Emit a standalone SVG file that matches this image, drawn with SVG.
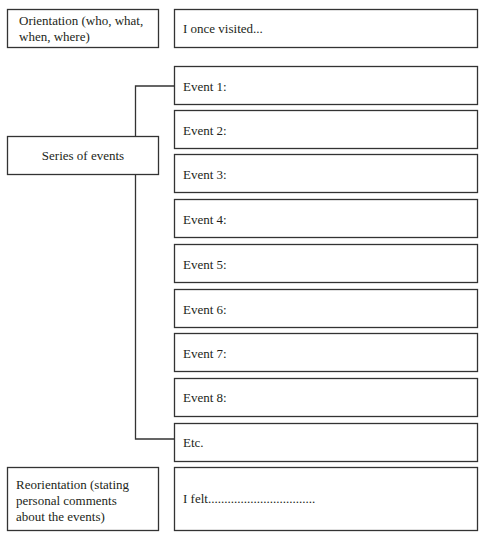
<svg xmlns="http://www.w3.org/2000/svg" width="487" height="541" viewBox="0 0 487 541">
<style>
rect{fill:#fff;stroke:#333;stroke-width:1.3}
text{font-family:"Liberation Serif",serif;font-size:13px;fill:#231f20}
.c{fill:none;stroke:#333;stroke-width:1.3}
</style>
<rect x="0" y="0" width="487" height="541" style="stroke:none"/>
<g id="connectors">
<polyline class="c" points="174,86 135.5,86 135.5,439 174,439"/>
</g>
<g id="orientation"><rect x="7.5" y="9.5" width="151" height="38"/><text x="19" y="25">Orientation (who, what,</text><text x="19" y="41">when, where)</text></g>
<g id="visited"><rect x="174.5" y="9.5" width="303" height="38"/><text x="183" y="33">I once visited...</text></g>
<g id="series"><rect x="7.5" y="136.5" width="151" height="38"/><text x="83" y="160" text-anchor="middle">Series of events</text></g>
<g id="event1"><rect x="174.5" y="66.5" width="303" height="38"/><text x="183" y="91">Event 1:</text></g>
<g id="event2"><rect x="174.5" y="110.5" width="303" height="38"/><text x="183" y="135">Event 2:</text></g>
<g id="event3"><rect x="174.5" y="154.5" width="303" height="38"/><text x="183" y="179">Event 3:</text></g>
<g id="event4"><rect x="174.5" y="199.5" width="303" height="38"/><text x="183" y="224">Event 4:</text></g>
<g id="event5"><rect x="174.5" y="244.5" width="303" height="38"/><text x="183" y="269">Event 5:</text></g>
<g id="event6"><rect x="174.5" y="289.5" width="303" height="38"/><text x="183" y="314">Event 6:</text></g>
<g id="event7"><rect x="174.5" y="333.5" width="303" height="38"/><text x="183" y="358">Event 7:</text></g>
<g id="event8"><rect x="174.5" y="378.5" width="303" height="38"/><text x="183" y="402">Event 8:</text></g>
<g id="etc"><rect x="174.5" y="423.5" width="303" height="38"/><text x="183" y="447">Etc.</text></g>
<g id="reorientation"><rect x="7.5" y="467.5" width="151" height="63"/><text x="16" y="489">Reorientation (stating</text><text x="16" y="505">personal comments</text><text x="16" y="521">about the events)</text></g>
<g id="felt"><rect x="174.5" y="467.5" width="303" height="63"/><text x="183" y="503">I felt.................................</text></g>
</svg>
